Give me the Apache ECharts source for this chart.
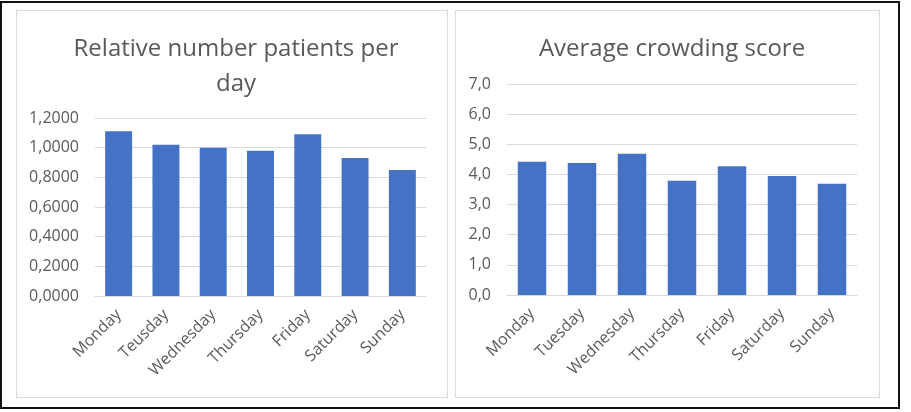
<!DOCTYPE html>
<html>
<head>
<meta charset="utf-8">
<script src="https://cdn.jsdelivr.net/npm/echarts@6/dist/echarts.min.js"></script>
<style>
  html, body { margin: 0; padding: 0; background: #fff; }
  #chart { position: absolute; left: 0; top: 0; width: 911px; height: 412px; }
  .box { position: absolute; box-sizing: border-box; pointer-events: none; }
</style>
</head>
<body>
<div id="chart"></div>
<div class="box" style="left:0;top:1px;width:900px;height:408px;border:2px solid #111;"></div>
<div class="box" style="left:16px;top:10px;width:432px;height:388px;border:1px solid #dcdcdc;"></div>
<div class="box" style="left:455px;top:10px;width:425px;height:388px;border:1px solid #dcdcdc;"></div>
<script>
const daysLeft = ["Monday", "Teusday", "Wednesday", "Thursday", "Friday", "Saturday", "Sunday"];
const daysRight = ["Monday", "Tuesday", "Wednesday", "Thursday", "Friday", "Saturday", "Sunday"];
const relativePatients = [1.11, 1.02, 1.00, 0.98, 1.09, 0.93, 0.85];
const crowdingScore = [4.42, 4.38, 4.69, 3.79, 4.27, 3.95, 3.69];

const font = "Open Sans";
const labelColor = "#595959";
const gridColor = "#d9d9d9";
const barColor = "#4472c4";

const comma = (digits) => (v) => v.toFixed(digits).replace(".", ",");

const chart = echarts.init(document.getElementById("chart"));
chart.setOption({
  animation: false,
  textStyle: { fontFamily: font },
  title: [
    {
      text: "Relative number patients per\nday",
      left: 231, top: 27, textAlign: "center",
      textStyle: { fontFamily: font, fontSize: 24, fontWeight: "normal", color: labelColor, lineHeight: 35 }
    },
    {
      text: "Average crowding score",
      left: 667, top: 27, textAlign: "center",
      textStyle: { fontFamily: font, fontSize: 24, fontWeight: "normal", color: labelColor, lineHeight: 35 }
    }
  ],
  grid: [
    { left: 95, top: 118, width: 331, height: 178 },
    { left: 507, top: 84, width: 350, height: 211 }
  ],
  xAxis: [0, 1].map((i) => ({
    type: "category",
    gridIndex: i,
    data: i === 0 ? daysLeft : daysRight,
    axisLine: { lineStyle: { color: gridColor } },
    axisTick: { show: false },
    axisLabel: { rotate: 45, color: labelColor, fontSize: 16, fontFamily: font, margin: 16, interval: 0 }
  })),
  yAxis: [
    {
      type: "value", gridIndex: 0, min: 0, max: 1.2, interval: 0.2,
      axisLabel: { formatter: comma(4), color: labelColor, fontSize: 16, fontFamily: font, margin: 16 },
      splitLine: { lineStyle: { color: gridColor } }
    },
    {
      type: "value", gridIndex: 1, min: 0, max: 7, interval: 1,
      axisLabel: { formatter: comma(1), color: labelColor, fontSize: 16, fontFamily: font, margin: 16 },
      splitLine: { lineStyle: { color: gridColor } }
    }
  ],
  series: [
    { type: "bar", xAxisIndex: 0, yAxisIndex: 0, data: relativePatients, barCategoryGap: "43%", itemStyle: { color: barColor } },
    { type: "bar", xAxisIndex: 1, yAxisIndex: 1, data: crowdingScore, barCategoryGap: "43%", itemStyle: { color: barColor } }
  ]
});
</script>
</body>
</html>
